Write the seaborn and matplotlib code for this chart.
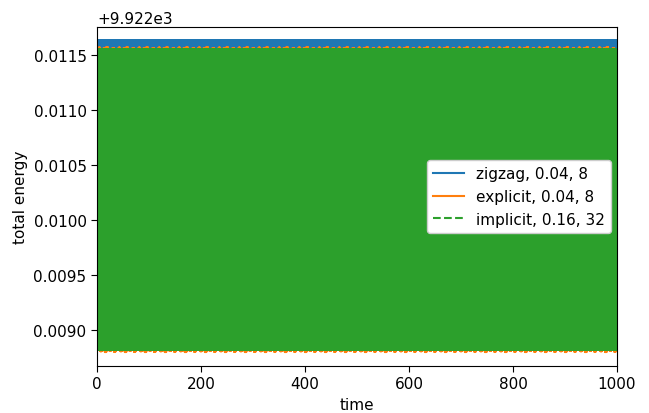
import numpy as np
import pandas as pd
import matplotlib
matplotlib.use("Agg")
import matplotlib.pyplot as plt
import seaborn as sns

plt.rcParams["font.size"] = 11
plt.rcParams["xtick.major.size"] = 4
plt.rcParams["ytick.major.size"] = 4

# --- data ---
t_end = 1000.0
labels = ["zigzag, 0.04, 8", "explicit, 0.04, 8", "implicit, 0.16, 32"]
steps = [0.04, 0.04, 0.16]
base = 9922.0
# zigzag: fast oscillation between two levels
zigzag_hi = [0.011632]
zigzag_lo = [0.011548]
# explicit: fast oscillation, peak levels vary slowly (occasional overshoots)
explicit_hi = [0.011540, 0.011566, 0.011540, 0.011540, 0.011558, 0.011540,
               0.011570, 0.011540, 0.011540, 0.011540, 0.011562, 0.011540, 0.011540]
explicit_lo = [0.008830, 0.008830, 0.008808, 0.008830, 0.008830, 0.008800,
               0.008830, 0.008830, 0.008812, 0.008830, 0.008830, 0.008804, 0.008830]
explicit_hold = 37   # oscillation pairs per peak level
# implicit: fast oscillation between two levels
implicit_hi = [0.011548]
implicit_lo = [0.008820]

colors = ["#1f77b4", "#ff7f0e", "#2ca02c"]
styles = ["-", "-", "--"]


def series(hi, lo, hold, n):
    pairs = np.column_stack([np.repeat(hi, hold), np.repeat(lo, hold)]).ravel()
    return base + np.resize(pairs, n)


frames = []
specs = [(zigzag_hi, zigzag_lo, 1), (explicit_hi, explicit_lo, explicit_hold),
         (implicit_hi, implicit_lo, 1)]
for lab, dt, (hi, lo, hold) in zip(labels, steps, specs):
    t = np.arange(0.0, t_end + dt / 2, dt)
    frames.append(pd.DataFrame({"time": t,
                                "total energy": series(hi, lo, hold, t.size),
                                "run": lab}))

fig = plt.figure(figsize=(6.49, 4.14), dpi=100)
ax = fig.add_axes([0.1495, 0.1135, 0.8012, 0.819])

for df, ls, c, lab in zip(frames, styles, colors, labels):
    sns.lineplot(data=df, x="time", y="total energy", ax=ax, color=c,
                 linestyle=ls, linewidth=1.5, estimator=None, sort=False,
                 label=lab)

ax.set_xlim(0, 1000)
ax.set_ylim(base + 0.008673, base + 0.011755)
ax.set_xticks([0, 200, 400, 600, 800, 1000])
ax.set_yticks(base + np.array([0.0090, 0.0095, 0.0100, 0.0105, 0.0110, 0.0115]))
ax.ticklabel_format(axis="y", useOffset=base, style="plain")
ax.set_xlabel("time")
ax.set_ylabel("total energy")
ax.legend(loc="center right", framealpha=1.0, borderaxespad=0.4)

fig.savefig("out.png", dpi=100)
